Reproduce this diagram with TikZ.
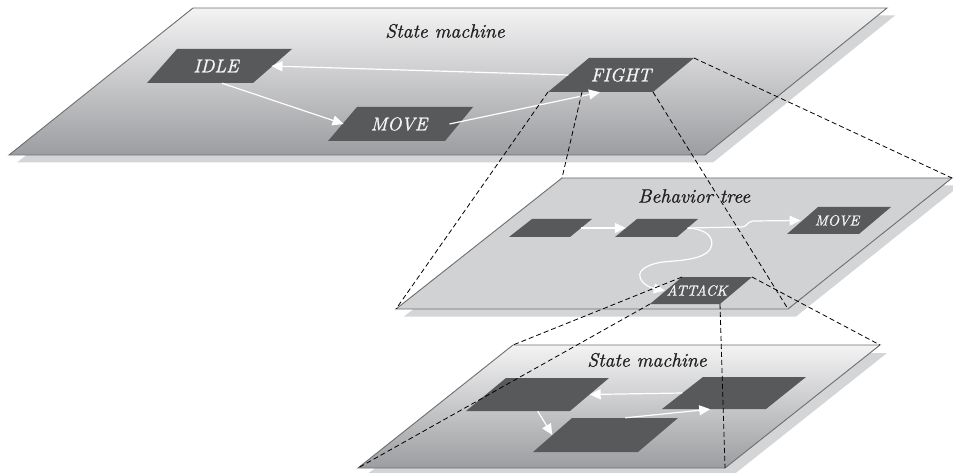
\documentclass[tikz,border=0pt]{standalone}
\usepackage{fontspec}
\setmainfont{lmroman10-regular}[Extension=.otf,ItalicFont=lmroman10-italic,ItalicFeatures={FakeBold=0.9}]
\usetikzlibrary{arrows.meta}
\definecolor{boxgray}{HTML}{58595B}
\definecolor{planeedge}{HTML}{6D6E71}
\definecolor{shadowgray}{HTML}{D4D5D7}
\definecolor{midfill}{HTML}{D1D2D4}
\definecolor{gradtop}{HTML}{F3F3F4}
\definecolor{gradbot}{HTML}{9C9DA0}
\definecolor{titlecol}{HTML}{231F20}
\definecolor{lblwhite}{HTML}{F4F4F4}
\begin{document}
\begin{tikzpicture}[x=1pt,y=-1pt,
  planeline/.style={draw=planeedge,line width=0.9pt},
  shadowfill/.style={fill=shadowgray},
  boxfill/.style={fill=boxgray},
  bigbox/.style={inner sep=0pt,text=lblwhite,font=\fontsize{18.5}{20}\selectfont\itshape},
  smallbox/.style={inner sep=0pt,text=lblwhite,font=\fontsize{14.5}{15}\selectfont\itshape},
  title/.style={inner sep=0pt,text=titlecol,font=\fontsize{19.3}{20}\selectfont\itshape},
  warrow/.style={draw=white,line width=1.2pt,-{Triangle[length=11pt,width=10pt]}},
  zoomline/.style={draw=black,line width=0.8pt,dash pattern=on 5pt off 3pt}]
\useasboundingbox (0,0) rectangle (953,473);
% plane corners
\coordinate (tTL) at (193,8);   \coordinate (tTR) at (887,8);
\coordinate (tBR) at (705,155); \coordinate (tBL) at (9,155);
\coordinate (mTL) at (562,178); \coordinate (mTR) at (952,178);
\coordinate (mBR) at (788,309); \coordinate (mBL) at (396,309);
\coordinate (bTL) at (513,345); \coordinate (bTR) at (880,345);
\coordinate (bBR) at (725,468); \coordinate (bBL) at (358,468);
% top plane
\fill[shadowfill,shift={(8,7.5)}] (193,8) -- (887,8) -- (705,155) -- (9,155) -- cycle;
\shade[top color=gradtop,bottom color=gradbot] (tTL) -- (tTR) -- (tBR) -- (tBL) -- cycle;
\draw[planeline] (tTL) -- (tTR) -- (tBR) -- (tBL) -- cycle;
% middle plane
\fill[shadowfill,shift={(8,7.5)}] (562,178) -- (952,178) -- (788,309) -- (396,309) -- cycle;
\fill[midfill] (mTL) -- (mTR) -- (mBR) -- (mBL) -- cycle;
\draw[planeline] (mTL) -- (mTR) -- (mBR) -- (mBL) -- cycle;
% bottom plane
\fill[shadowfill,shift={(7,8)}] (513,345) -- (880,345) -- (725,468) -- (358,468) -- cycle;
\shade[top color=gradtop,bottom color=gradbot] (bTL) -- (bTR) -- (bBR) -- (bBL) -- cycle;
\draw[planeline] (bTL) -- (bTR) -- (bBR) -- (bBL) -- cycle;
% titles
\node[title] (ttitle) at (445,31) {State machine};
\node[title] (mtitle) at (694,196) {Behavior tree};
\node[title] (btitle) at (647,360) {State machine};
% top boxes
\fill[boxfill] (177,49) -- (292,49) -- (253,83) -- (147,83) -- cycle;
\node[bigbox,minimum width=110.5pt,minimum height=34pt] (idle) at (216,66) {IDLE};
\fill[boxfill] (357,107) -- (473,107) -- (445,141) -- (328,141) -- cycle;
\node[bigbox,minimum width=116.5pt,minimum height=34pt] (move) at (399,124) {MOVE};
\coordinate (fTL) at (589,58); \coordinate (fTR) at (694,58);
\coordinate (fBR) at (653,92); \coordinate (fBL) at (548,92);
\coordinate (fBm) at (582,92);
\fill[boxfill] (fTL) -- (fTR) -- (fBR) -- (fBL) -- cycle;
\node[bigbox,minimum width=105pt,minimum height=34pt] (fight) at (621,75) {FIGHT};
% top arrows
\draw[warrow] (fight.west) -- (idle.east);
\draw[warrow] ([xshift=6pt]idle.south) -- ([xshift=3pt]move.west);
\draw[warrow] ([xshift=-8pt]move.east) -- ([xshift=-21pt]fight.south);
% middle boxes
\fill[boxfill] (532,219) -- (592,219) -- (570,237) -- (509,237) -- cycle;
\node[inner sep=0pt,minimum width=60.5pt,minimum height=18pt] (bt1) at (550.75,228) {};
\fill[boxfill] (637,219) -- (698,219) -- (677,237) -- (615,237) -- cycle;
\node[inner sep=0pt,minimum width=61.5pt,minimum height=18pt] (bt2) at (656.75,228) {};
\fill[boxfill] (818,207) -- (891,207) -- (859,234) -- (787,234) -- cycle;
\node[smallbox,minimum width=72.5pt,minimum height=27pt] (btmove) at (837,220.5) {MOVE};
\coordinate (aTL) at (682,277); \coordinate (aTR) at (752,277);
\coordinate (aBR) at (720,304); \coordinate (aBL) at (650,304);
\fill[boxfill] (aTL) -- (aTR) -- (aBR) -- (aBL) -- cycle;
\node[smallbox,minimum width=70pt,minimum height=27pt] (attack) at (697,290.5) {ATTACK};
% middle arrows
\draw[warrow] (bt1.east) -- (bt2.west);
\draw[warrow] (bt2.east) -- (742,227) .. controls (747,227) and (747,221.5) .. (753,221) -- (btmove.west);
\draw[warrow] (bt2.east) .. controls (705,229) and (713,236) .. (711.7,245)
  .. controls (710,257) and (690,260) .. (668,261.5)
  .. controls (648,263) and (638,270) .. (640,277)
  .. controls (642,285) and (652,288) .. ([xshift=3pt]attack.west);
% bottom boxes
\fill[boxfill] (506,378) -- (609,378) -- (570,411) -- (466,411) -- cycle;
\node[inner sep=0pt,minimum width=103.5pt,minimum height=33pt] (sa) at (537.75,394.5) {};
\fill[boxfill] (572,418) -- (678,418) -- (638,452) -- (533,452) -- cycle;
\node[inner sep=0pt,minimum width=105.5pt,minimum height=34pt] (sb) at (605.25,435) {};
\fill[boxfill] (703,377) -- (806,377) -- (766,409) -- (662,409) -- cycle;
\node[inner sep=0pt,minimum width=103.5pt,minimum height=32pt] (sc) at (734.25,393) {};
% bottom arrows
\draw[warrow] (sc.west) -- (sa.east);
\draw[warrow] (sa.south) -- (sb.west);
\draw[warrow] ([xshift=20pt]sb.north) -- ([xshift=-24pt]sc.south);
% zoom lines
\draw[zoomline] (fBL) -- (mBL);
\draw[zoomline] (fBm) -- (mTL);
\draw[zoomline] (fBR) -- (mBR);
\draw[zoomline] (fTR) -- (mTR);
\draw[zoomline] (aTL) -- (bTL);
\draw[zoomline] (aBL) -- (bBL);
\draw[zoomline] (aBR) -- (bBR);
\draw[zoomline] (aTR) -- (bTR);
\end{tikzpicture}
\end{document}
